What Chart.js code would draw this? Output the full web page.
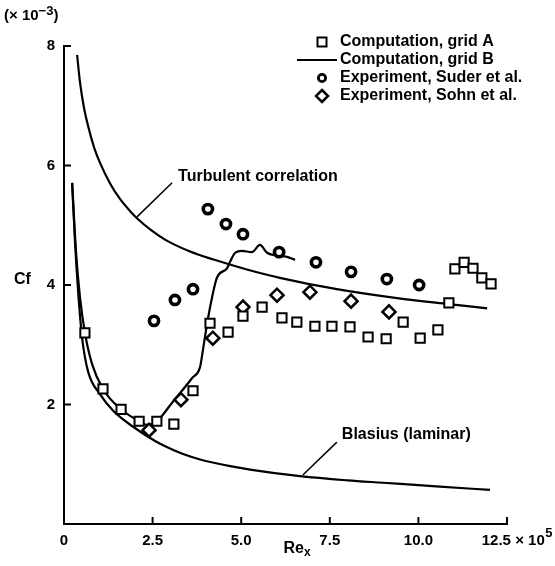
<!DOCTYPE html>
<html>
<head>
<meta charset="utf-8">
<script src="https://cdn.jsdelivr.net/npm/chart.js"></script>
<style>
  body { margin: 0; background: #fff; }
  canvas { display: block; }
</style>
</head>
<body>
<canvas id="cf" width="555" height="566"></canvas>
<script>
// Re_x in units of 1e5, Cf in units of 1e-3
const reGridA = [0.59, 1.10, 1.61, 2.12, 2.62, 3.10, 3.64, 4.12, 4.63, 5.05, 5.59, 6.15, 6.57, 7.08, 7.56, 8.07, 8.58, 9.09, 9.57, 10.05, 10.55, 10.86, 11.03, 11.29, 11.54, 11.79, 12.05];
const cfGridA = [3.20, 2.26, 1.92, 1.72, 1.72, 1.67, 2.23, 3.36, 3.21, 3.48, 3.63, 3.45, 3.38, 3.31, 3.31, 3.30, 3.13, 3.10, 3.38, 3.11, 3.25, 3.70, 4.27, 4.38, 4.28, 4.12, 4.02];

const reGridB = [0.23, 0.34, 0.45, 0.59, 0.79, 1.10, 1.61, 2.12, 2.34, 2.62, 3.05, 3.61, 3.84, 3.92, 4.04, 4.18, 4.32, 4.60, 4.68, 4.83, 5.02, 5.30, 5.53, 5.73, 6.09, 6.29, 6.52];
const cfGridB = [5.71, 4.55, 3.80, 3.20, 2.68, 2.26, 1.92, 1.72, 1.66, 1.72, 2.03, 2.44, 2.63, 2.91, 3.36, 3.80, 4.13, 4.28, 4.38, 4.54, 4.57, 4.55, 4.67, 4.54, 4.49, 4.47, 4.42];

const reSuder = [2.54, 3.13, 3.64, 4.06, 4.57, 5.05, 6.07, 7.11, 8.10, 9.11, 10.02];
const cfSuder = [3.40, 3.75, 3.93, 5.27, 5.02, 4.85, 4.55, 4.38, 4.22, 4.10, 4.00];

const reSohn = [2.40, 3.30, 4.20, 5.05, 6.01, 6.94, 8.10, 9.17];
const cfSohn = [1.57, 2.08, 3.11, 3.63, 3.83, 3.88, 3.73, 3.55];

const reTurb = [0.37, 0.45, 0.56, 0.68, 0.85, 1.02, 1.30, 1.58, 1.86, 2.09, 2.43, 2.85, 3.56, 4.20, 5.16, 6.09, 7.70, 9.40, 10.86, 11.94];
const cfTurb = [7.85, 7.40, 6.98, 6.66, 6.30, 6.04, 5.70, 5.44, 5.24, 5.10, 4.93, 4.76, 4.56, 4.43, 4.26, 4.12, 3.93, 3.78, 3.68, 3.61];

const reBlas = [0.23, 0.31, 0.40, 0.51, 0.68, 1.02, 1.38, 1.92, 2.57, 2.93, 3.36, 3.84, 4.77, 5.25, 6.66, 8.00, 9.00, 10.50, 12.02];
const cfBlas = [5.71, 4.72, 3.88, 3.12, 2.55, 2.17, 1.90, 1.64, 1.39, 1.28, 1.17, 1.08, 0.96, 0.91, 0.80, 0.73, 0.69, 0.63, 0.57];

const xTicks = [0, 2.5, 5.0, 7.5, 10.0, 12.5];
const yTicks = [0, 2, 4, 6, 8];

const legendLabels = ['Computation, grid A', 'Computation, grid B', 'Experiment, Suder et al.', 'Experiment, Sohn et al.'];

const pts = (xs, ys) => xs.map((v, i) => ({ x: v, y: ys[i] }));
const FONT = '"Liberation Sans", Arial, sans-serif';
const TXT = 16;

const datasets = [
  {
    label: legendLabels[0], data: pts(reGridA, cfGridA), showLine: false,
    pointStyle: 'rect', pointRadius: 6.5, borderWidth: 2, borderColor: '#000', backgroundColor: '#fff'
  },
  {
    label: legendLabels[2], data: pts(reSuder, cfSuder), showLine: false,
    pointStyle: 'circle', pointRadius: 4.6, borderWidth: 3.6, borderColor: '#000', backgroundColor: '#fff'
  },
  {
    label: legendLabels[3], data: pts(reSohn, cfSohn), showLine: false,
    pointStyle: 'rectRot', pointRadius: 6.5, borderWidth: 2.5, borderColor: '#000', backgroundColor: '#fff'
  },
  {
    label: legendLabels[1], data: pts(reGridB, cfGridB), showLine: true,
    pointRadius: 0, borderWidth: 2.2, borderColor: '#000', cubicInterpolationMode: 'monotone'
  },
  {
    label: 'Turbulent correlation', data: pts(reTurb, cfTurb), showLine: true,
    pointRadius: 0, borderWidth: 2.2, borderColor: '#000', cubicInterpolationMode: 'monotone'
  },
  {
    label: 'Blasius (laminar)', data: pts(reBlas, cfBlas), showLine: true,
    pointRadius: 0, borderWidth: 2.2, borderColor: '#000', cubicInterpolationMode: 'monotone'
  }
];

function line(ctx, x1, y1, x2, y2) {
  ctx.beginPath(); ctx.moveTo(x1, y1); ctx.lineTo(x2, y2); ctx.stroke();
}

// text with a raised or lowered small part, e.g. 10^-3 or Re_x
function richText(ctx, parts, x, y) {
  let cx = x;
  parts.forEach(p => {
    ctx.font = 'bold ' + p.size + 'px ' + FONT;
    ctx.fillText(p.t, cx, y + (p.dy || 0));
    cx += ctx.measureText(p.t).width;
  });
  return cx;
}

function drawMarker(ctx, style, x, y) {
  ctx.fillStyle = '#fff';
  ctx.strokeStyle = '#000';
  ctx.beginPath();
  if (style === 'rect') {
    ctx.lineWidth = 2; ctx.rect(x - 4.5, y - 4.5, 9, 9);
  } else if (style === 'circle') {
    ctx.lineWidth = 2.8; ctx.arc(x, y, 3.6, 0, Math.PI * 2);
  } else {
    ctx.lineWidth = 2.5;
    ctx.moveTo(x, y - 6); ctx.lineTo(x + 6, y); ctx.lineTo(x, y + 6); ctx.lineTo(x - 6, y); ctx.closePath();
  }
  ctx.fill(); ctx.stroke();
}

const decor = {
  id: 'decor',
  afterDraw(chart) {
    const { ctx, chartArea: a, scales: { x, y } } = chart;
    ctx.save();
    ctx.strokeStyle = '#000';
    ctx.fillStyle = '#000';
    ctx.lineWidth = 2;

    // inward tick marks
    yTicks.forEach(v => { if (v) { const py = y.getPixelForValue(v); line(ctx, a.left, py, a.left + 7, py); } });
    xTicks.forEach(v => { if (v) { const px = x.getPixelForValue(v); line(ctx, px, a.bottom, px, a.bottom - 7); } });

    ctx.textBaseline = 'middle';
    ctx.textAlign = 'left';

    // axis titles and exponents
    richText(ctx, [{ t: '(× 10', size: 15 }, { t: '−3', size: 13, dy: -5 }, { t: ')', size: 15 }], 4, 16);
    richText(ctx, [{ t: 'Cf', size: TXT }], 14, 280);
    const rx = (a.left + a.right) / 2 - 2;
    richText(ctx, [{ t: 'Re', size: TXT }, { t: 'x', size: 12, dy: 4 }], rx, 549);

    // exponent after the last x tick label
    const last = x.getLabelItems().find(it => it.label.trim().startsWith('12.5'));
    if (last) {
      ctx.font = 'bold 15px ' + FONT;
      const w = ctx.measureText(last.label).width;
      const endX = x.getPixelForValue(12.5) + w / 2 + 0.5;
      richText(ctx, [{ t: '5', size: 13, dy: -5 }], endX, 538);
    }

    // curve labels with leader lines
    ctx.lineWidth = 1.5;
    line(ctx, x.getPixelForValue(2.06), y.getPixelForValue(5.14), x.getPixelForValue(3.05), y.getPixelForValue(5.71));
    line(ctx, x.getPixelForValue(6.74), y.getPixelForValue(0.82), x.getPixelForValue(7.70), y.getPixelForValue(1.37));
    ctx.fillStyle = '#000';
    richText(ctx, [{ t: 'Turbulent correlation', size: TXT }], x.getPixelForValue(3.22), y.getPixelForValue(5.82));
    richText(ctx, [{ t: 'Blasius (laminar)', size: TXT }], x.getPixelForValue(7.84), y.getPixelForValue(1.49));

    // legend
    const lx = 322, ly = 42, step = 18;
    const styles = ['rect', 'line', 'circle', 'diamond'];
    styles.forEach((s, i) => {
      const yy = ly + i * step;
      if (s === 'line') {
        ctx.strokeStyle = '#000'; ctx.lineWidth = 2;
        line(ctx, 297, yy, 337, yy);
      } else {
        drawMarker(ctx, s, lx, yy);
      }
      ctx.fillStyle = '#000';
      richText(ctx, [{ t: legendLabels[i], size: TXT }], 340, yy);
    });
    ctx.restore();
  }
};

new Chart(document.getElementById('cf'), {
  type: 'scatter',
  data: { datasets },
  options: {
    responsive: false,
    animation: false,
    layout: { padding: { left: 0, top: 46, right: 48, bottom: 0 } },
    plugins: { legend: { display: false }, tooltip: { enabled: false } },
    scales: {
      x: {
        type: 'linear', min: 0, max: 12.5,
        afterBuildTicks: s => { s.ticks = xTicks.map(v => ({ value: v })); },
        afterFit: s => { s.height = 42; },
        grid: { display: false, drawTicks: false },
        border: { display: true, color: '#000', width: 2 },
        ticks: {
          color: '#000', padding: 8, maxRotation: 0, autoSkip: false,
          font: { family: FONT, size: 15, weight: 'bold' },
          callback: v => v === 0 ? '0' : (v === 12.5 ? '   12.5 × 10' : v.toFixed(1))
        }
      },
      y: {
        type: 'linear', min: 0, max: 8,
        afterBuildTicks: s => { s.ticks = yTicks.map(v => ({ value: v })); },
        afterFit: s => { s.width = 64; },
        grid: { display: false, drawTicks: false },
        border: { display: true, color: '#000', width: 2 },
        ticks: {
          color: '#000', padding: 9,
          font: { family: FONT, size: 15, weight: 'bold' },
          callback: v => v === 0 ? '' : String(v)
        }
      }
    }
  },
  plugins: [decor]
});
</script>
</body>
</html>
